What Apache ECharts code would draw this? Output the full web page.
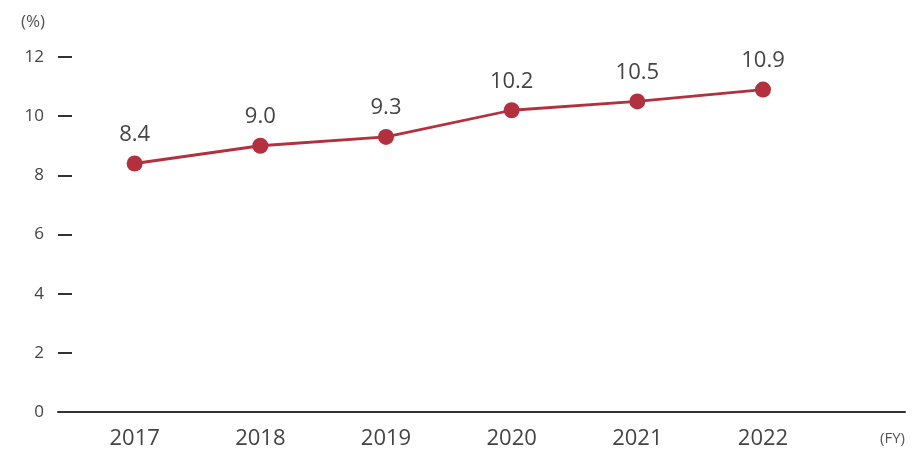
<!DOCTYPE html>
<html>
<head>
<meta charset="utf-8">
<script src="https://cdn.jsdelivr.net/npm/echarts@6/dist/echarts.min.js"></script>
<style>
  html, body { margin: 0; padding: 0; background: #fff; }
  #chart { width: 913px; height: 453px; }
</style>
</head>
<body>
<div id="chart"></div>
<script>
// fiscal years and ratio values (%)
const years = [2017, 2018, 2019, 2020, 2021, 2022];
const values = [8.4, 9.0, 9.3, 10.2, 10.5, 10.9];
const yTicks = [0, 2, 4, 6, 8, 10, 12];

const chart = echarts.init(document.getElementById("chart"));

const option = {
  animation: false,
  textStyle: { fontFamily: "Open Sans" },
  grid: { left: 58, right: 8, top: 57, bottom: 41, containLabel: false },
  xAxis: {
    type: "value",
    min: 2016.39,
    max: 2023.13,
    name: "(FY)",
    nameLocation: "end",
    nameGap: 0,
    nameTextStyle: {
      color: "#555",
      fontSize: 15,
      align: "right",
      verticalAlign: "top",
      padding: [19, 0, 0, 0],
    },
    axisLine: { show: true, lineStyle: { color: "#333", width: 2 } },
    axisTick: { show: false },
    splitLine: { show: false },
    axisLabel: {
      customValues: years,
      color: "#444",
      fontSize: 22,
      margin: 16,
      formatter: (v) => String(v),
    },
  },
  yAxis: {
    type: "value",
    min: 0,
    max: 12,
    interval: 2,
    name: "(%)",
    nameLocation: "end",
    nameGap: 26,
    nameTextStyle: {
      color: "#555",
      fontSize: 17,
      align: "right",
      padding: [0, 13, 0, 0],
    },
    axisLine: { show: false },
    axisTick: {
      show: true,
      inside: true,
      length: 14,
      lineStyle: { color: "#333", width: 2 },
    },
    splitLine: { show: false },
    axisLabel: {
      color: "#444",
      fontSize: 17,
      margin: 14,
      customValues: yTicks,
    },
  },
  series: [
    {
      type: "line",
      data: years.map((y, i) => [y, values[i]]),
      symbol: "circle",
      symbolSize: 16,
      lineStyle: { color: "#b3303f", width: 2.8 },
      itemStyle: { color: "#b3303f" },
      label: {
        show: true,
        position: "top",
        distance: 10,
        color: "#444",
        fontSize: 22,
        formatter: (p) => p.value[1].toFixed(1),
      },
    },
  ],
};

chart.setOption(option);
</script>
</body>
</html>
